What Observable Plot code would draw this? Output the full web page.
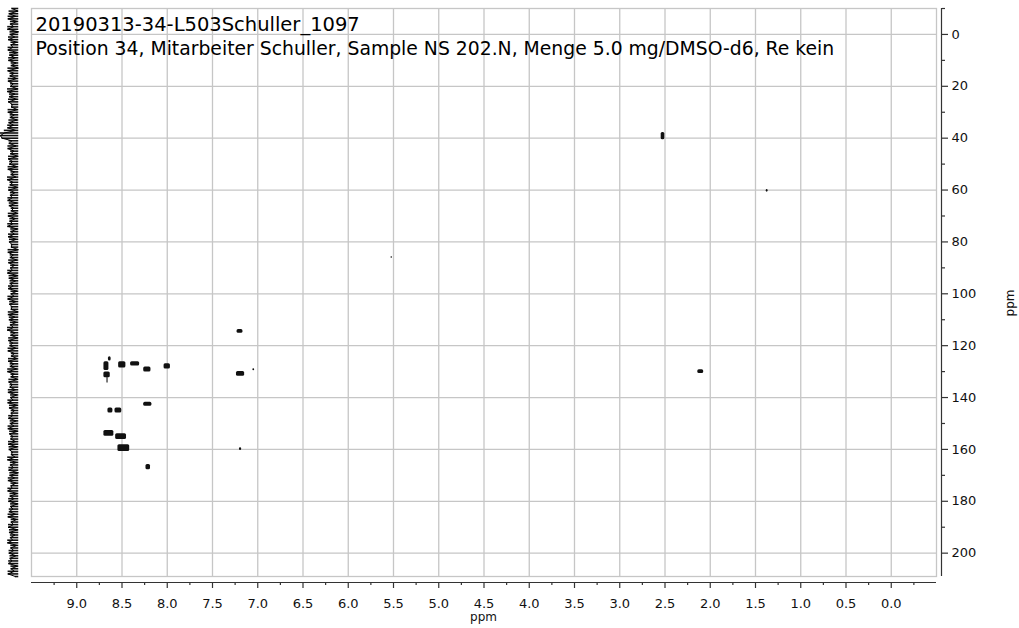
<!DOCTYPE html>
<html><head><meta charset="utf-8">
<script src="https://cdn.jsdelivr.net/npm/d3@7"></script>
<script src="https://cdn.jsdelivr.net/npm/@observablehq/plot@0.6"></script>
<style>
body{margin:0;background:#fff}
#wrap{position:relative;width:1019px;height:628px;background:#fff}
#wrap svg{position:absolute;left:0;top:0}
</style>
</head><body><div id="wrap"></div>
<script>
// ---- data ----
const titleLine1 = "20190313-34-L503Schuller_1097";
const titleLine2 = "Position 34, Mitarbeiter Schuller, Sample NS 202.N, Menge 5.0 mg/DMSO-d6, Re kein";
const axisLabel = "ppm";

const xDomain = [9.5, -0.5];          // 1H ppm (reversed)
const yDomain = [-10, 209];           // 13C ppm (increasing downward)
const xMajor = [9.0,8.5,8.0,7.5,7.0,6.5,6.0,5.5,5.0,4.5,4.0,3.5,3.0,2.5,2.0,1.5,1.0,0.5,0.0];
const xMinor = [9.25,8.75,8.25,7.75,7.25,6.75,6.25,5.75,5.25,4.75,4.25,3.75,3.25,2.75,2.25,1.75,1.25,0.75,0.25,-0.25];
const yMajor = [0,20,40,60,80,100,120,140,160,180,200];
const yMinor = [-10,10,30,50,70,90,110,130,150,170,190];

// cross peaks: 1H shift, 13C shift, extent in 1H, extent in 13C (ppm)
const peakH  = [8.672,8.635,8.665,8.66,8.497,8.355,8.22,8.0,7.19,7.044,8.215,8.628,8.54,8.645,8.51,8.48,7.19,8.21,7.196,2.522,1.371,5.52,2.105];
const peakC  = [127.9,125.1,131.3,133.2,127.4,127.0,129.2,128.0,130.9,129.3,142.6,145.0,145.0,153.8,155.1,159.5,159.9,166.8,114.5,39.2,60.3,86.0,130.0];
const peakWH = [0.055,0.03,0.07,0.012,0.08,0.10,0.08,0.07,0.09,0.02,0.09,0.055,0.075,0.11,0.12,0.13,0.025,0.05,0.065,0.04,0.02,0.012,0.065];
const peakWC = [3.4,1.6,2.2,2.5,2.4,1.6,1.9,2.0,1.8,0.8,1.6,1.9,1.9,2.2,2.2,2.6,1.0,2.0,1.4,2.8,1.0,0.7,1.4];

// 13C projection (left trace), sampled every 1 ppm from -10 to 209, intensity in %
const projStart = -10;
const projI = [
40,8,55,20,60,12,48,30,62,5,50,25,58,15,45,35,60,10,52,22,
57,18,44,6,61,28,50,14,59,33,47,9,63,24,53,16,58,38,42,11,
60,27,49,13,56,31,62,20,80,100,92,40,55,18,61,29,47,7,58,36,
52,12,60,26,45,19,63,34,50,8,57,23,48,38,61,15,54,30,44,10,
59,21,51,35,62,11,46,27,58,17,53,40,43,6,60,32,49,14,57,25,
47,37,62,9,55,20,50,33,58,13,45,28,61,18,52,39,44,7,59,24,
54,16,48,31,63,22,46,10,57,35,51,19,60,26,43,12,58,30,49,15,
62,27,45,8,56,38,50,21,59,14,47,33,61,11,53,25,44,36,57,17,
49,29,60,9,52,34,46,20,58,13,55,37,43,23,62,16,48,31,56,6,
51,26,59,18,45,39,61,12,50,28,57,10,47,35,54,21,60,15,44,32,
58,9,53,24,48,36,62,14,46,30,55,19,50,40,57,11,45,27,60,22
];

// ---- build tables ----
const peaks = peakH.map((h, i) => ({h, c: peakC[i], wh: peakWH[i], wc: peakWC[i]}));
const proj = projI.map((v, i) => ({c: projStart + i, v: v / 100}));
// envelope of each sample step (max of neighbouring samples) -> dense band like the dense raw trace
const projBand = proj.map((d, i) => ({c: d.c, lo: 0.04, hi: Math.max(d.v, i + 1 < proj.length ? proj[i + 1].v : d.v)}));

const W = 1019, H = 628;
const gridColor = "#c6c6c6";
const axisColor = "#333";
const fmt1 = d3.format(".1f");

const main = Plot.plot({
  width: W, height: H,
  marginTop: 8, marginBottom: 46, marginLeft: 31, marginRight: 78,
  style: {fontFamily: "DejaVu Sans", fontSize: "13px", color: "#111", background: "transparent"},
  x: {domain: xDomain, insetRight: 5},
  y: {domain: yDomain, reverse: true, insetBottom: 6},
  marks: [
    Plot.gridX({ticks: xMajor, stroke: gridColor, strokeOpacity: 1, strokeWidth: 1.3, insetBottom: 6}),
    Plot.gridY({ticks: yMajor, stroke: gridColor, strokeOpacity: 1, strokeWidth: 1.3, insetRight: 5}),
    Plot.frame({stroke: gridColor, strokeWidth: 1.3, insetRight: 5, insetBottom: 6}),
    Plot.rect(peaks, {
      x1: d => d.h + d.wh / 2, x2: d => d.h - d.wh / 2,
      y1: d => d.c - d.wc / 2, y2: d => d.c + d.wc / 2,
      fill: "#111", rx: 1.5
    }),
    // axis lines
    Plot.ruleY([yDomain[1]], {dy: 6, insetRight: 5, stroke: axisColor, strokeWidth: 1.2}),
    Plot.ruleX([xDomain[1]], {dx: 5, insetBottom: 6, stroke: axisColor, strokeWidth: 1.2}),
    // x axis
    Plot.axisX({anchor: "bottom", ticks: xMajor, tickSize: 6, tickPadding: 10, tickFormat: fmt1, label: null, stroke: axisColor, strokeWidth: 1.2, fill: "#111"}),
    Plot.axisX({anchor: "bottom", ticks: xMinor, tickSize: 3, tickFormat: () => "", label: null, stroke: axisColor, strokeWidth: 1.2}),
    // y axis
    Plot.axisY({anchor: "right", ticks: yMajor, tickSize: 6, tickPadding: 4, tickFormat: d3.format("d"), label: null, stroke: axisColor, strokeWidth: 1.2, fill: "#111"}),
    Plot.axisY({anchor: "right", ticks: yMinor, tickSize: 3, tickFormat: () => "", label: null, stroke: axisColor, strokeWidth: 1.2}),
    // titles
    Plot.text([titleLine1], {frameAnchor: "top-left", dx: 4, dy: 22, lineAnchor: "bottom", textAnchor: "start", fontSize: 19.5, fill: "#000"}),
    Plot.text([titleLine2], {frameAnchor: "top-left", dx: 4, dy: 46, lineAnchor: "bottom", textAnchor: "start", fontSize: 18.8, fill: "#000"}),
    // axis titles
    Plot.text([axisLabel], {frameAnchor: "bottom", dx: -3, dy: 35, lineAnchor: "middle", fontSize: 12, fill: "#111"}),
    Plot.text([axisLabel], {frameAnchor: "right", dx: 69, dy: -6, rotate: -90, lineAnchor: "middle", fontSize: 12, fill: "#111"})
  ]
});

const side = Plot.plot({
  width: 31, height: H,
  marginTop: 8, marginBottom: 46, marginLeft: 0, marginRight: 0,
  style: {background: "transparent"},
  x: {domain: [-0.63, 1], reverse: true, axis: null},
  y: {domain: yDomain, reverse: true, insetBottom: 6, axis: null},
  marks: [
    Plot.ruleY(projBand, {y: "c", x1: "lo", x2: "hi", stroke: "#111", strokeWidth: 1.6}),
    Plot.line(proj, {x: "v", y: "c", stroke: "#000", strokeWidth: 1})
  ]
});

const wrap = document.getElementById("wrap");
wrap.appendChild(main);
wrap.appendChild(side);
</script>
</body></html>
